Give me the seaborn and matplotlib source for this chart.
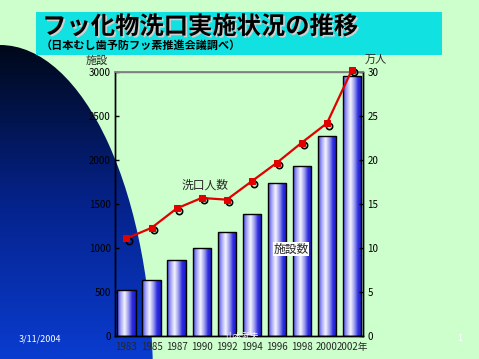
import numpy as np
import matplotlib
matplotlib.use("Agg")
import matplotlib.pyplot as plt
import matplotlib.patheffects as pe
from matplotlib.colors import LinearSegmentedColormap
from matplotlib.patches import Ellipse, Rectangle
from matplotlib.transforms import offset_copy
import pandas as pd
import seaborn as sns

# ---- data ----
years = ['1983', '1985', '1987', '1990', '1992', '1994', '1996', '1998', '2000', '2002']
year_labels = ['1983', '1985', '1987', '1990', '1992', '1994', '1996', '1998', '2000', '2002年']
facilities = [525, 640, 860, 1000, 1180, 1385, 1740, 1930, 2270, 2960]   # 施設数
people = [11.1, 12.3, 14.5, 15.7, 15.5, 17.6, 19.7, 22.0, 24.2, 30.3]   # 洗口人数 (万人)

sns.set_theme(style="white")
plt.rcParams['font.family'] = ['Noto Sans CJK JP', 'DejaVu Sans']

BG = '#CCFFCC'
fig = plt.figure(figsize=(4.79, 3.59), dpi=100, facecolor=BG)

# background layer: cyan title box + dark blue arc
bg = fig.add_axes([0, 0, 1, 1], zorder=-5)
bg.set_xlim(0, 479)
bg.set_ylim(359, 0)
bg.axis('off')
bg.set_facecolor(BG)
arc = Ellipse((0, 380), 306, 670, facecolor='none', edgecolor='none')
bg.add_patch(arc)
grad = np.linspace(0, 1, 256).reshape(-1, 1)
arc_cmap = LinearSegmentedColormap.from_list('arc', ['#000818', '#05228A', '#0A3CD0'])
im = bg.imshow(grad, cmap=arc_cmap, extent=(0, 160, 359, 44), aspect='auto')
im.set_clip_path(arc)
bg.add_patch(Rectangle((36, 12), 406, 43, facecolor='#11E1E1', edgecolor='none'))

fig.text(0.088, 0.925, 'フッ化物洗口実施状況の推移', fontsize=17.5, fontweight='bold',
         color='black', va='center',
         path_effects=[pe.withSimplePatchShadow(offset=(1.2, -1.2), shadow_rgbFace='#d0d0d0', alpha=1)])
fig.text(0.084, 0.874, '（日本むし歯予防フッ素推進会議調べ）', fontsize=8, fontweight='bold',
         color='black', va='center')
fig.text(0.04, 0.056, '3/11/2004', fontsize=6.5, color='white', va='center')
fig.text(0.955, 0.056, '1', fontsize=6.5, color='white', va='center')
fig.text(0.505, 0.062, '山本武夫', fontsize=6, color='white', va='center', ha='center')

# ---- bars (facilities) ----
ax = fig.add_axes([0.240, 0.064, 0.518, 0.735])
ax.set_facecolor('none')
df = pd.DataFrame({'year': years, 'facilities': facilities, 'people': people})
sns.barplot(data=df, x='year', y='facilities', ax=ax, color='#4040E0',
            width=0.73, edgecolor='black', linewidth=1.0, zorder=2)

bar_cmap = LinearSegmentedColormap.from_list(
    'cyl', ['#4848E8', '#A8A8F4', '#F4F4FF', '#A0A0F0', '#3030E0', '#1818D0'])
hgrad = np.linspace(0, 1, 64).reshape(1, -1)
for p in ax.patches:
    x0, w, h = p.get_x(), p.get_width(), p.get_height()
    g = ax.imshow(hgrad, cmap=bar_cmap, extent=(x0, x0 + w, 0, h),
                  aspect='auto', zorder=2.5)
    g.set_clip_path(p)
    p.set_facecolor('none')
    p.set_zorder(3)

ax.set_xlim(-0.46, 9.44)
ax.set_ylim(0, 3000)
ax.set_yticks(range(0, 3001, 500))
ax.set_xticks(range(len(years)))
ax.set_xticklabels(year_labels)
ax.set_xlabel('')
ax.set_ylabel('')
ax.tick_params(axis='y', direction='in', length=3, width=1, labelsize=7, colors='black', pad=3)
ax.tick_params(axis='x', length=0, labelsize=7, pad=4)
for s in ['left', 'bottom', 'right']:
    ax.spines[s].set_color('black')
    ax.spines[s].set_linewidth(1)
ax.spines['top'].set_color('#808080')
ax.spines['top'].set_linewidth(1)
ax.text(-0.073, 1.045, '施設', transform=ax.transAxes, ha='center', va='center', fontsize=8)
ax.text(6.57, 990, '施設数', ha='center', va='center', fontsize=8.5, zorder=6,
        bbox=dict(facecolor='white', edgecolor='none', pad=0.5))

# ---- line (people, right axis) ----
ax2 = ax.twinx()
ax2.set_facecolor('none')
pos = np.arange(len(years))
shadow = offset_copy(ax2.transData, fig=fig, x=1.6, y=-1.8, units='points')
ax2.plot(pos, people, linestyle='none', marker='o', markersize=4.5,
         markerfacecolor='none', markeredgecolor='black', markeredgewidth=1.2,
         transform=shadow, clip_on=False, zorder=3)
sns.lineplot(data=df, x=pos, y='people', ax=ax2, color='#E00000', linewidth=1.6,
             marker='s', markersize=4, markeredgecolor='#E00000', zorder=4)
for ln in ax2.lines:
    ln.set_clip_on(False)
ax2.set_ylim(0, 30)
ax2.set_yticks(range(0, 31, 5))
ax2.set_ylabel('')
ax2.tick_params(axis='y', direction='in', length=3, width=1, labelsize=7, colors='black', pad=3)
for s in ['left', 'bottom', 'right']:
    ax2.spines[s].set_color('black')
    ax2.spines[s].set_linewidth(1)
ax2.spines['top'].set_color('#808080')
ax2.text(1.052, 1.045, '万人', transform=ax2.transAxes, ha='center', va='center', fontsize=8)
ax2.text(3.13, 17.2, '洗口人数', ha='center', va='center', fontsize=8.5)
ax.set_xlim(-0.46, 9.44)

fig.savefig('out.png', dpi=100, facecolor=BG)
